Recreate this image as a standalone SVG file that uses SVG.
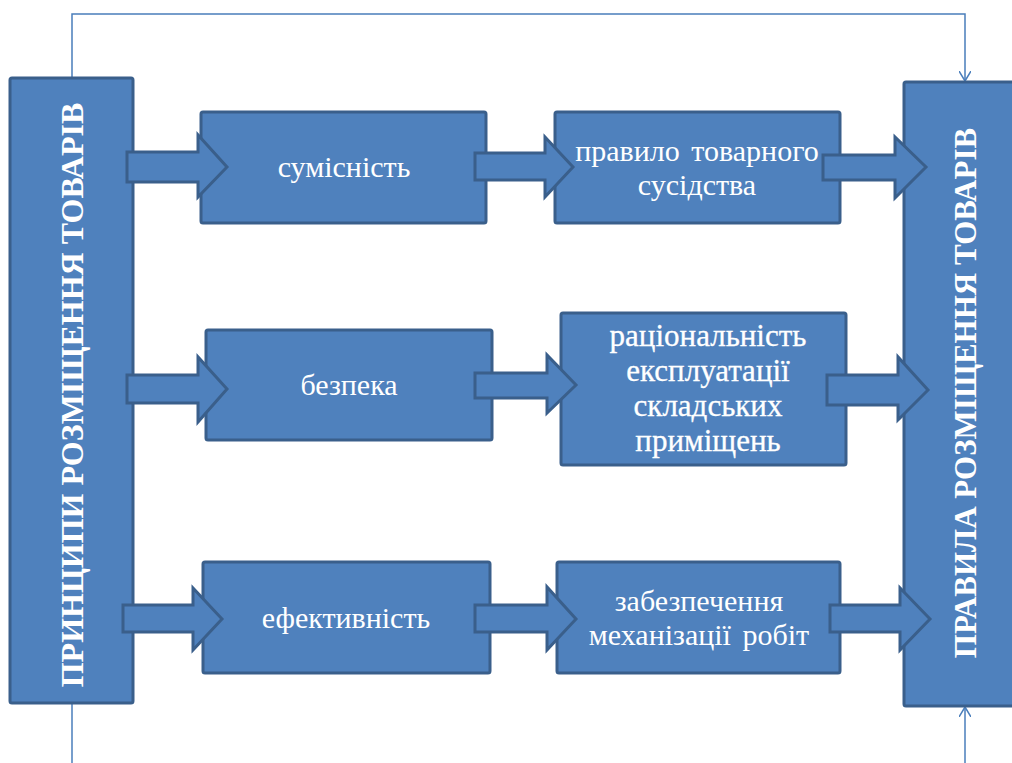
<svg xmlns="http://www.w3.org/2000/svg" width="1012" height="763" viewBox="0 0 1012 763">
  <style>
    .box { fill: #4F81BD; stroke: #3A5F8B; stroke-width: 3; }
    .arrow { fill: #4F81BD; stroke: #3A5F8B; stroke-width: 3; stroke-linejoin: miter; }
    text { font-family: 'Liberation Serif', 'DejaVu Serif', serif; fill: #FFFFFF; text-anchor: middle; }
    .lbl { font-size: 30px; }
    .heavy { font-size: 31px; stroke: #FFFFFF; stroke-width: 0.3; }
    .title { font-size: 32px; font-weight: bold; }
    .link { fill: none; stroke: #4A7EBB; stroke-width: 1.5; }
  </style>
  <defs>
    <marker id="vhead" markerWidth="12" markerHeight="12" refX="10" refY="6" orient="auto" markerUnits="userSpaceOnUse">
      <path d="M0,0 L10,6 L0,12" fill="none" stroke="#4A7EBB" stroke-width="1.5"/>
    </marker>
  </defs>
  <rect width="1012" height="763" fill="#FFFFFF"/>

  <!-- feedback lines linking the two tall blocks -->
  <g id="connectors">
    <path class="link" d="M72,78 V14 H965 V81" marker-end="url(#vhead)"/>
    <path class="link" d="M72,703 V763"/>
    <path class="link" d="M965,763 V707" marker-end="url(#vhead)"/>
  </g>

  <!-- tall left block -->
  <g id="principles">
    <rect class="box" x="10" y="78" width="123" height="625" rx="2"/>
    <text class="title" transform="translate(83,395) rotate(-90)">ПРИНЦИПИ РОЗМІЩЕННЯ ТОВАРІВ</text>
  </g>

  <!-- tall right block -->
  <g id="rules">
    <rect class="box" x="904" y="82" width="112" height="624" rx="2"/>
    <text class="title" style="font-size:31px" transform="translate(976,393) rotate(-90)">ПРАВИЛА РОЗМІЩЕННЯ ТОВАРІВ</text>
  </g>

  <!-- row 1 -->
  <g id="compat">
    <rect class="box" x="201" y="112" width="285" height="111" rx="2"/>
    <text class="lbl" x="344" y="177">сумісність</text>
  </g>
  <g id="neighbour">
    <rect class="box" x="555" y="112" width="285" height="111" rx="2"/>
    <text class="lbl" x="697" y="161" word-spacing="4">правило товарного</text>
    <text class="lbl" x="697" y="195">сусідства</text>
  </g>

  <!-- row 2 -->
  <g id="safety">
    <rect class="box" x="206" y="330" width="286" height="110" rx="2"/>
    <text class="lbl" x="349" y="395">безпека</text>
  </g>
  <g id="rational">
    <rect class="box" x="561" y="313" width="285" height="152" rx="2"/>
    <text class="heavy" x="708" y="346">раціональність</text>
    <text class="heavy" x="708" y="381">експлуатації</text>
    <text class="heavy" x="708" y="416">складських</text>
    <text class="heavy" x="708" y="451">приміщень</text>
  </g>

  <!-- row 3 -->
  <g id="efficiency">
    <rect class="box" x="203" y="562" width="287" height="111" rx="2"/>
    <text class="lbl" x="346" y="628">ефективність</text>
  </g>
  <g id="mechan">
    <rect class="box" x="557" y="562" width="283" height="111" rx="2"/>
    <text class="lbl" x="699" y="611">забезпечення</text>
    <text class="lbl" x="699" y="645" word-spacing="4">механізації робіт</text>
  </g>

  <!-- block arrows between stages -->
  <g id="flow">
    <path class="arrow" d="M127,152 H198 V135 L227,167 L198,197 V182 H127 Z"/>
    <path class="arrow" d="M475,153 H545 V137 L573,167 L545,197 V180 H475 Z"/>
    <path class="arrow" d="M823,155 H895 V137 L926,167 L895,198 V180 H823 Z"/>

    <path class="arrow" d="M127,375 H198 V357 L227,389 L198,422 V403 H127 Z"/>
    <path class="arrow" d="M475,373 H547 V355 L576,385 L547,413 V398 H475 Z"/>
    <path class="arrow" d="M827,375 H898 V357 L928,390 L898,420 V405 H827 Z"/>

    <path class="arrow" d="M123,605 H193 V588 L222,619 L193,650 V632 H123 Z"/>
    <path class="arrow" d="M475,605 H547 V587 L576,619 L547,650 V632 H475 Z"/>
    <path class="arrow" d="M830,605 H900 V588 L930,619 L900,650 V632 H830 Z"/>
  </g>
</svg>
